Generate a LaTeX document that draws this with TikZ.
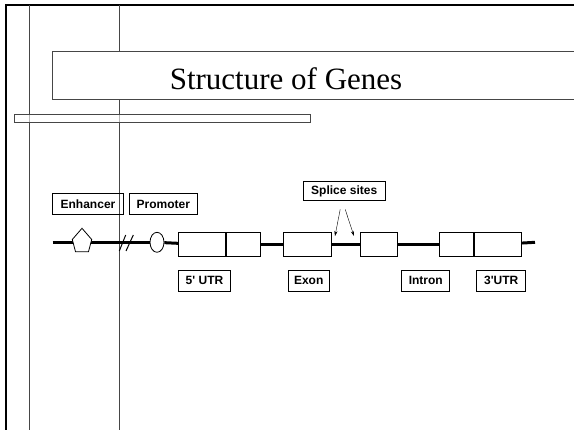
\documentclass[tikz,border=0pt]{standalone}
\usepackage{fontspec}
\setmainfont{Liberation Serif}
\newfontfamily\arialfont{Liberation Sans}
\usepackage{tikz}
\usetikzlibrary{shapes.geometric, positioning, arrows.meta}
\usepackage{xcolor}
\definecolor{rulegray}{RGB}{70, 70, 70}

\begin{document}
\begin{tikzpicture}[x=1pt, y=-1pt, >={Stealth[length=5pt, width=3.2pt]}, line width=0.8pt,
    tag/.style={draw=black, line width=1pt, font=\arialfont\bfseries\fontsize{12}{14}\selectfont, inner sep=0pt, minimum height=21pt},
    exonbox/.style={draw=black, fill=white, inner sep=0pt, minimum height=24.4pt},
    gene/.style={line width=3pt}]
    \useasboundingbox (0,0) rectangle (574,430);

    % 边框
    \draw[line width=2pt] (6,430) -- (6,5) -- (574,5);
    \draw[rulegray] (29,5) -- (29,430);
    \draw[rulegray] (119.5,5) -- (119.5,430);
    \draw[rulegray, fill=white] (580,51.7) -- (52.7,51.7) -- (52.7,99.3) -- (580,99.3);
    \node[anchor=base, font=\fontsize{31}{37}\selectfont, inner sep=0pt] (title) at (286,90) {Structure of Genes};
    \draw[rulegray, fill=white, fill opacity=0.6] (14.7,114) rectangle (310.7,122.7);

    % 基因
    \coordinate (lstart) at (52.7,242.3);  \coordinate (lend) at (535,242.3);
    \coordinate (enh) at (82,242.3);
    \node[ellipse, draw, fill=white, inner sep=0pt, minimum width=14pt, minimum height=20pt] (prom) at (157,242.3) {};
    \node[exonbox, minimum width=47.4pt] (ex1a) at (202,244.5) {};
    \node[exonbox, minimum width=33.6pt, right=0pt of ex1a] (ex1b) {};
    \node[exonbox, minimum width=47.7pt] (ex2) at (307.2,244.5) {};
    \node[exonbox, minimum width=37.7pt] (ex3) at (378.9,244.5) {};
    \node[exonbox, minimum width=34pt] (ex4a) at (456.3,244.5) {};
    \node[exonbox, minimum width=47.7pt, right=0pt of ex4a] (ex4b) {};
    \draw[gene] (lstart) -- (prom);
    \draw[gene] (prom) -- (ex1a);
    \draw[gene] (ex1b) -- (ex2);
    \draw[gene] (ex2) -- (ex3);
    \draw[gene] (ex3) -- (ex4a);
    \draw[gene] (ex4b) -- (lend);
    \draw[fill=white] (82,228.3) -- (91.7,239.5) -- (88.5,251.7) -- (75.5,251.7) -- (72.3,239.5) -- cycle;
    \draw[line width=1pt] (119.3,251) -- (125.7,235);
    \draw[line width=1pt] (126,251) -- (133.3,235);

    % 标签
    \node[tag, minimum width=70.6pt] (enhancer) at (88,204.5) {Enhancer};
    \node[tag, minimum width=68pt] (promoter) at (163.3,204.5) {Promoter};
    \node[tag, minimum width=81.7pt, minimum height=18.7pt] (splice) at (344.2,191) {Splice sites};
    \node[tag, minimum width=52.4pt] (utr5) at (204.5,280.8) {5\textquotesingle{} UTR};
    \node[tag, minimum width=40.7pt] (exon) at (308.7,280.8) {Exon};
    \node[tag, minimum width=48.3pt] (intron) at (425.8,280.8) {Intron};
    \node[tag, minimum width=49pt] (utr3) at (501.2,280.8) {3\textquotesingle UTR};

    \coordinate (ss1) at (335,236);  \coordinate (ss2) at (354,236);
    \draw[->, thin] ([shift={(-4,8.6)}]splice.south) -- (ss1);
    \draw[->, thin] ([shift={(1,8.6)}]splice.south) -- (ss2);
\end{tikzpicture}
\end{document}
